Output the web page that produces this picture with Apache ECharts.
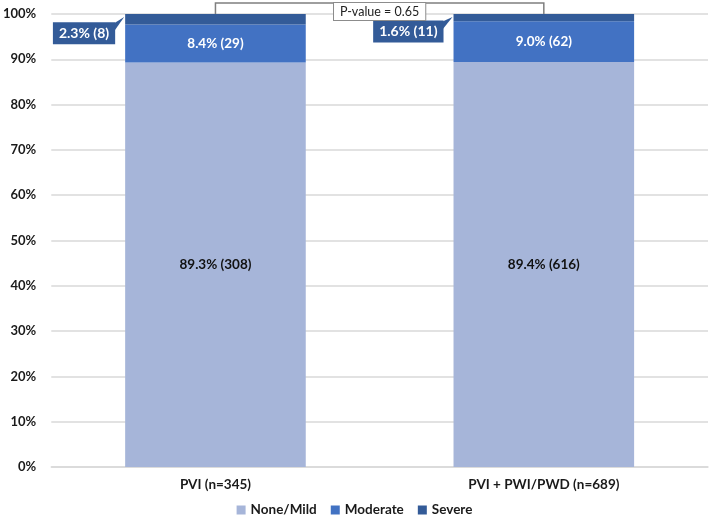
<!DOCTYPE html>
<html>
<head>
<meta charset="utf-8">
<script src="https://cdn.jsdelivr.net/npm/echarts@6/dist/echarts.min.js"></script>
<style>html,body{margin:0;padding:0;background:#fff}#c{width:709px;height:522px}</style>
</head>
<body>
<div id="c"></div>
<script>
var categories = ['PVI (n=345)', 'PVI + PWI/PWD (n=689)'];
var noneMild = [89.3, 89.4];
var noneMildN = [308, 616];
var moderate = [8.4, 9.0];
var moderateN = [29, 62];
var severe = [2.3, 1.6];
var severeN = [8, 11];
var yTicks = [0, 10, 20, 30, 40, 50, 60, 70, 80, 90, 100];
var pValueText = 'P-value = 0.65';

var FONT = 'Lato';
var C_NONE = '#a6b5d9', C_MOD = '#4272c3', C_SEV = '#335b98';

function fmt(ns) {
  return function (p) { return p.value.toFixed(1) + '% (' + ns[p.dataIndex] + ')'; };
}

var chart = echarts.init(document.getElementById('c'), null, {renderer: 'canvas'});
var option = {
  animation: false,
  textStyle: {fontFamily: FONT},
  grid: {left: 48, right: 1, top: 14, bottom: 55, containLabel: false},
  legend: {
    bottom: 0, itemWidth: 9, itemHeight: 9, itemGap: 14, icon: 'rect',
    textStyle: {fontFamily: FONT, fontWeight: 'bold', fontSize: 13.5, color: '#1a1a1a'},
    data: ['None/Mild', 'Moderate', 'Severe']
  },
  xAxis: {
    type: 'category', data: categories,
    axisLine: {lineStyle: {color: '#d9d9d9', width: 1.5}},
    axisTick: {show: false},
    axisLabel: {fontFamily: FONT, fontWeight: 'bold', fontSize: 13.5, color: '#1a1a1a', margin: 11}
  },
  yAxis: {
    type: 'value', min: yTicks[0], max: yTicks[yTicks.length - 1], interval: 10,
    axisLine: {show: false}, axisTick: {show: false},
    splitLine: {lineStyle: {color: '#d9d9d9', width: 1.5}},
    axisLabel: {formatter: '{value}%', fontFamily: FONT, fontWeight: 'bold', fontSize: 13, color: '#1a1a1a', margin: 15}
  },
  series: [
    {name: 'None/Mild', type: 'bar', stack: 's', data: noneMild, barWidth: '55%',
     itemStyle: {color: C_NONE},
     label: {show: true, position: 'inside', formatter: fmt(noneMildN), color: '#111', fontWeight: 'bold', fontSize: 13.5, fontFamily: FONT}},
    {name: 'Moderate', type: 'bar', stack: 's', data: moderate,
     itemStyle: {color: C_MOD},
     label: {show: true, position: 'inside', formatter: fmt(moderateN), color: '#fff', fontWeight: 'bold', fontSize: 13.5, fontFamily: FONT}},
    {name: 'Severe', type: 'bar', stack: 's', data: severe,
     itemStyle: {color: C_SEV},
     label: {show: true, position: 'left', distance: 10, offset: [0, 14], formatter: fmt(severeN),
       color: '#fff', fontWeight: 'bold', fontSize: 14, fontFamily: FONT,
       backgroundColor: C_SEV, padding: [4, 6, 4, 6]}}
  ]
};
chart.setOption(option);

function drawExtras() {
  var x1 = chart.convertToPixel({xAxisIndex: 0}, categories[0]);
  var x2 = chart.convertToPixel({xAxisIndex: 0}, categories[1]);
  var y100 = chart.convertToPixel({yAxisIndex: 0}, 100);
  var band = x2 - x1;
  var halfBar = band * 0.55 / 2;
  var top = y100 - 11;
  var gs = [];
  gs.push({type: 'polyline', shape: {points: [[x1, y100], [x1, top], [x2, top], [x2, y100]]},
    style: {stroke: '#7f7f7f', lineWidth: 1.5, fill: null}, z: 10});
  gs.push({type: 'text', x: (x1 + x2) / 2, y: top + 8.5,
    style: {text: pValueText, font: '12.5px ' + FONT, fill: '#222', align: 'center', verticalAlign: 'middle',
      backgroundColor: '#fff', borderColor: '#8c8c8c', borderWidth: 1, padding: [2, 6, 2, 6]}, z: 11});
  for (var i = 0; i < categories.length; i++) {
    var xc = chart.convertToPixel({xAxisIndex: 0}, categories[i]);
    var barLeft = xc - halfBar;
    var segMid = chart.convertToPixel({yAxisIndex: 0}, 100 - severe[i] / 2);
    var boxRight = barLeft - 10;
    var boxTop = segMid + 14 - 11;
    gs.push({type: 'polygon', shape: {points: [[boxRight - 1, boxTop + 1], [boxRight - 1, boxTop + 9], [barLeft - 1, y100 + 3]]},
      style: {fill: C_SEV}, z: 10});
  }
  chart.setOption({graphic: gs});
}
drawExtras();
</script>
</body>
</html>
